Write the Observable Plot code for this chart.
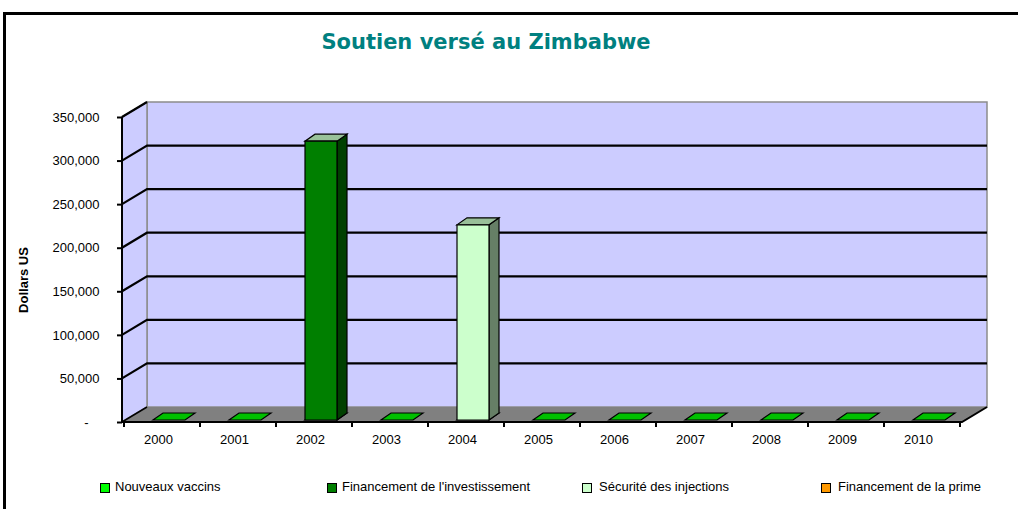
<!DOCTYPE html>
<html><head><meta charset="utf-8">
<script src="https://cdn.jsdelivr.net/npm/d3@7"></script>
<script src="https://cdn.jsdelivr.net/npm/@observablehq/plot@0.6"></script>
<style>
html,body{margin:0;padding:0;background:#fff;}
body{width:1018px;height:509px;overflow:hidden;position:relative;font-family:"Liberation Sans",Arial,sans-serif;}
#frame{position:absolute;left:3px;top:12px;width:1100px;height:600px;border:3px solid #000;box-sizing:border-box;pointer-events:none;}
#title{position:relative;height:90px;}
#title span{position:absolute;left:0;width:972px;text-align:center;top:30px;font:bold 21px "DejaVu Sans",Verdana,sans-serif;line-height:normal;color:#008080;white-space:nowrap;}
#chart{position:relative;height:370px;}
#chart svg{display:block;}
#legend{position:relative;height:49px;font-size:13px;color:#000;}
#legend .sw{position:absolute;top:23px;width:10px;height:10px;box-sizing:border-box;border:1px solid #000;}
#legend .lb{position:absolute;top:19px;white-space:nowrap;line-height:normal;}
</style>
</head><body>
<div id="title"><span></span></div>
<div id="chart"></div>
<div id="legend"></div>
<div id="frame"></div>
<script>
// ---- data ----
const titleText = "Soutien versé au Zimbabwe";
const yLabel = "Dollars US";
const years = [2000, 2001, 2002, 2003, 2004, 2005, 2006, 2007, 2008, 2009, 2010];
const seriesNames = ["Nouveaux vaccins", "Financement de l'investissement", "Sécurité des injections", "Financement de la prime"];
const nouveauxVaccins = [0, 0, 0, 0, 0, 0, 0, 0, 0, 0, 0];
const financementInvestissement = [0, 0, 320000, 0, 0, 0, 0, 0, 0, 0, 0];
const securiteInjections = [0, 0, 0, 0, 224000, 0, 0, 0, 0, 0, 0];
const financementPrime = [0, 0, 0, 0, 0, 0, 0, 0, 0, 0, 0];
const yTicks = [0, 50000, 100000, 150000, 200000, 250000, 300000, 350000];

// ---- styles ----
const seriesStyle = {
  "Nouveaux vaccins": {front: "#00FF00", side: "#008000", top: "#00C000"},
  "Financement de l'investissement": {front: "#007F00", side: "#004000", top: "#99C299"},
  "Sécurité des injections": {front: "#CCFFCC", side: "#667F66", top: "#99BF99"},
  "Financement de la prime": {front: "#FF9900", side: "#7F4C00", top: "#CC7A00"}
};
const legendSwatchX = [100, 327, 582, 821];
const legendTextX = [115, 342, 599, 838];
const WALL = {dx: 25, dy: -15};
const BAR = {dx: 7, dy: -2};   // bar plane offset inside the floor
const DEPTH = {dx: 10, dy: -7}; // bar depth

const seriesValues = [nouveauxVaccins, financementInvestissement, securiteInjections, financementPrime];
const rows = [];
years.forEach((yr, i) => {
  let acc = 0;
  seriesValues.forEach((vals, s) => {
    rows.push({year: yr, series: seriesNames[s], value: vals[i], y1: acc, y2: acc + vals[i]});
    acc += vals[i];
  });
});
const yMax = yTicks[yTicks.length - 1];

document.querySelector("#title span").textContent = titleText;

const poly = pts => "M" + pts.map(p => p.join(",")).join("L") + "Z";

function scene(index, scales, values, dim) {
  const {x, y} = scales;
  const x0 = dim.marginLeft, x1 = dim.width - dim.marginRight;
  const y0 = y(0), yT = y(yMax);
  const g = d3.create("svg:g");
  // back wall
  g.append("path").attr("d", poly([[x0 + WALL.dx, yT + WALL.dy], [x1 + WALL.dx, yT + WALL.dy], [x1 + WALL.dx, y0 + WALL.dy], [x0 + WALL.dx, y0 + WALL.dy]]))
    .attr("fill", "#CCCCFF").attr("stroke", "#8C8C8C").attr("stroke-width", 1.5);
  // left wall
  g.append("path").attr("d", poly([[x0, yT], [x0 + WALL.dx, yT + WALL.dy], [x0 + WALL.dx, y0 + WALL.dy], [x0, y0]]))
    .attr("fill", "#CCCCFF").attr("stroke", "#8C8C8C").attr("stroke-width", 1.5);
  // gridlines
  for (const t of yTicks) {
    if (t === 0) continue;
    const yy = y(t);
    const pts = t === yMax ? [[x0, yy], [x0 + WALL.dx, yy + WALL.dy]] : [[x0, yy], [x0 + WALL.dx, yy + WALL.dy], [x1 + WALL.dx, yy + WALL.dy]];
    g.append("path").attr("d", "M" + pts.map(p => p.join(",")).join("L")).attr("fill", "none").attr("stroke", "#000").attr("stroke-width", 2.2);
  }
  // floor
  g.append("path").attr("d", poly([[x0, y0], [x1, y0], [x1 + WALL.dx, y0 + WALL.dy], [x0 + WALL.dx, y0 + WALL.dy]]))
    .attr("fill", "#808080");
  g.append("path").attr("d", `M${x0},${y0}L${x1},${y0}L${x1 + WALL.dx},${y0 + WALL.dy}`).attr("fill", "none").attr("stroke", "#000").attr("stroke-width", 2);
  g.append("path").attr("d", `M${x0},${y0}L${x0 + WALL.dx},${y0 + WALL.dy}`).attr("fill", "none").attr("stroke", "#000").attr("stroke-width", 1.5);
  // front value axis
  g.append("line").attr("x1", x0).attr("x2", x0).attr("y1", yT).attr("y2", y0).attr("stroke", "#000").attr("stroke-width", 2);
  // category boundary ticks
  const bw = x.bandwidth(), step = x.step();
  const bounds = years.map(yr => x(yr) + bw / 2 - step / 2).concat([x(years[years.length - 1]) + bw / 2 + step / 2]);
  for (const bx of bounds) {
    g.append("line").attr("x1", bx).attr("x2", bx).attr("y1", y0).attr("y2", y0 + 5).attr("stroke", "#000").attr("stroke-width", 2);
  }
  // tiles (zero values of first series)
  for (const r of rows) {
    if (r.series !== seriesNames[0]) continue;
    const xl = x(r.year) + BAR.dx, xr = xl + bw, yt = y(r.y2) + BAR.dy;
    g.append("path").attr("d", poly([[xl, yt], [xr, yt], [xr + DEPTH.dx, yt + DEPTH.dy], [xl + DEPTH.dx, yt + DEPTH.dy]]))
      .attr("fill", seriesStyle[r.series].top).attr("stroke", "#000").attr("stroke-width", 1.2);
  }
  // bars
  for (const r of rows) {
    if (!(r.value > 0)) continue;
    const st = seriesStyle[r.series];
    const xl = x(r.year) + BAR.dx, xr = xl + bw, yt = y(r.y2) + BAR.dy, yb = y(r.y1) + BAR.dy;
    g.append("path").attr("d", poly([[xr, yt], [xr + DEPTH.dx, yt + DEPTH.dy], [xr + DEPTH.dx, yb + DEPTH.dy], [xr, yb]]))
      .attr("fill", st.side).attr("stroke", "#000").attr("stroke-width", 1.2);
    g.append("path").attr("d", poly([[xl, yt], [xr, yt], [xr + DEPTH.dx, yt + DEPTH.dy], [xl + DEPTH.dx, yt + DEPTH.dy]]))
      .attr("fill", st.top).attr("stroke", "#000").attr("stroke-width", 1.2);
    g.append("path").attr("d", poly([[xl, yt], [xr, yt], [xr, yb], [xl, yb]]))
      .attr("fill", st.front).attr("stroke", "#000").attr("stroke-width", 1.2);
  }
  return g.node();
}

const chart = Plot.plot({
  width: 1018,
  height: 370,
  marginLeft: 122,
  marginRight: 56,
  marginTop: 27,
  marginBottom: 38,
  style: {fontFamily: "'Liberation Sans', Arial, sans-serif", fontSize: "13px", color: "#000", background: "transparent", overflow: "visible"},
  x: {type: "band", domain: years, paddingInner: 0.581, paddingOuter: 0.29, axis: null},
  y: {domain: [0, yMax], axis: null},
  marks: [
    Plot.barY(rows.filter(r => r.value > 0), {x: "year", y1: "y1", y2: "y2", fill: "none"}),
    scene,
    Plot.axisY({ticks: yTicks, tickSize: 5, tickPadding: 18, strokeWidth: 2, fontSize: 13,
      tickFormat: d => d === 0 ? "-\u00a0\u00a0\u00a0" : d3.format(",")(d), label: null}),
    Plot.axisX({tickSize: 0, tickPadding: 12, fontSize: 13, dx: -4, label: null, tickFormat: d => String(d)}),
    Plot.text([yLabel], {frameAnchor: "left", text: d => d, rotate: -90, textAnchor: "middle", dx: -99, dy: 10, fontWeight: "bold", fontSize: 13})
  ]
});
document.getElementById("chart").appendChild(chart);

const leg = document.getElementById("legend");
seriesNames.forEach((name, i) => {
  const sw = document.createElement("div");
  sw.className = "sw"; sw.style.left = legendSwatchX[i] + "px"; sw.style.background = seriesStyle[name].front;
  const lb = document.createElement("div");
  lb.className = "lb"; lb.style.left = legendTextX[i] + "px"; lb.textContent = name;
  leg.appendChild(sw); leg.appendChild(lb);
});
</script>
</body></html>
